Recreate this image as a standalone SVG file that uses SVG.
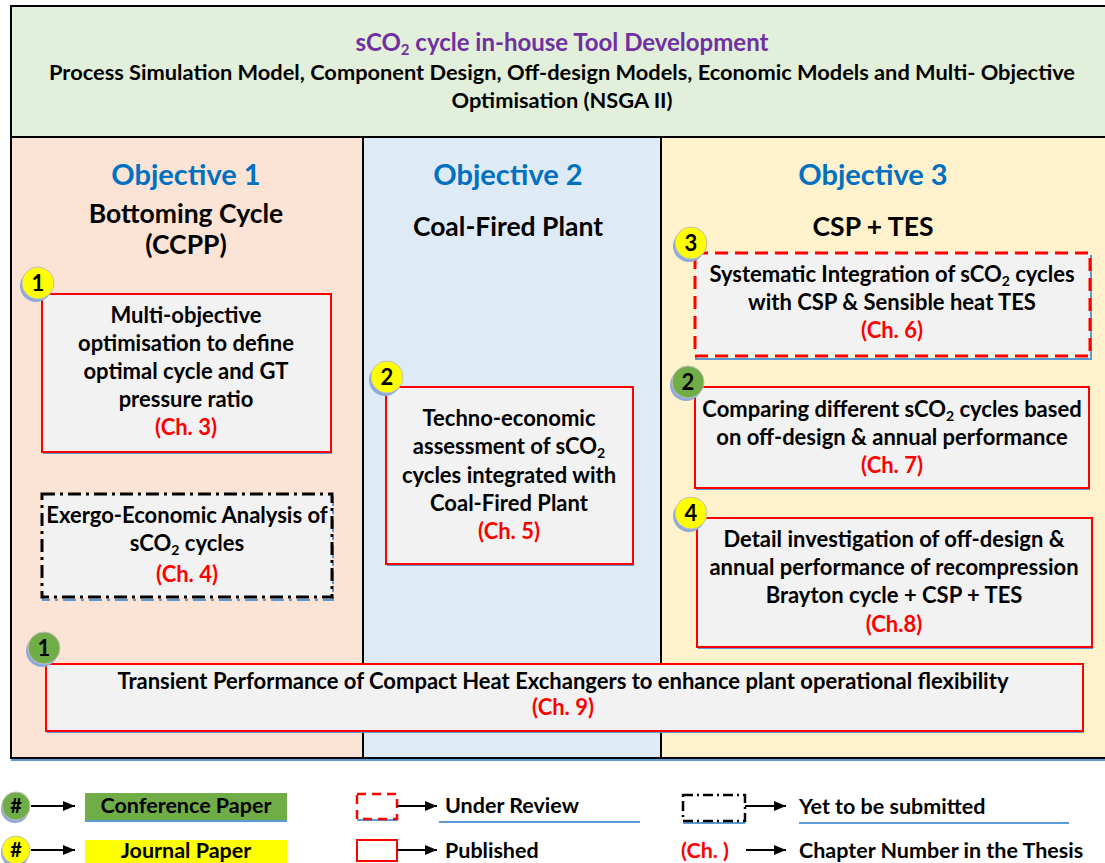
<svg xmlns="http://www.w3.org/2000/svg" width="1105" height="863" viewBox="0 0 1105 863">
<defs>
<style>
text{font-family:Lato,"Liberation Sans",sans-serif;font-weight:700;text-anchor:middle;fill:#000}
.b{font-size:22px}
.ch{fill:#ff0000}
.obj{font-size:29px;fill:#0070c0}
.sub{font-size:26.5px}
.box{fill:#f2f2f2;stroke:#ff0000;stroke-width:2}
.dash{stroke-width:3;stroke-dasharray:13 7}
.dd{fill:#f2f2f2;stroke:#000;stroke-width:3;stroke-dasharray:13 5 3 5}
.sh{fill:#5b9bd5}
.by{fill:#ffff00;stroke:#bfbfbf;stroke-width:1}
.bg{fill:#70ad47;stroke:#bfbfbf;stroke-width:1}
.bsh{fill:#8eaadb}
.num{font-size:22px}
.ul{stroke:#5b9bd5;stroke-width:2}
.ar{stroke:#000;stroke-width:1.8;marker-end:url(#arr)}
.lg{font-size:21.5px;text-anchor:start}
.sb{font-size:14px}
</style>
<marker id="arr" viewBox="0 0 12 10" refX="12" refY="5" markerWidth="12" markerHeight="10" markerUnits="userSpaceOnUse" orient="auto">
<path d="M0,0 L12,5 L0,10 z" fill="#000"/>
</marker>
</defs>

<g id="header">
<rect x="11" y="6" width="1100" height="131" fill="#e2efda" stroke="#000" stroke-width="2"/>
<text x="562" y="51" style="font-size:24px;fill:#7030a0">sCO<tspan style="font-size:15px" dy="4">2</tspan><tspan dy="-4"> cycle in-house Tool Development</tspan></text>
<text x="562" y="80" style="font-size:21.8px">Process Simulation Model, Component Design, Off-design Models, Economic Models and Multi- Objective</text>
<text x="562" y="108" style="font-size:21.8px">Optimisation (NSGA II)</text>
</g>

<g id="columns">
<rect x="11" y="137" width="352" height="621" fill="#fbe4d5"/>
<rect x="363" y="137" width="298" height="621" fill="#deebf7"/>
<rect x="661" y="137" width="450" height="621" fill="#fff2cc"/>
<line x1="11" y1="760" x2="1105" y2="760" stroke="#5b9bd5" stroke-width="2"/>
<path d="M11,137 V758 H1105 M363,137 V758 M661,137 V758 M11,137 H1105" fill="none" stroke="#000" stroke-width="2"/>
</g>

<g id="obj1-head">
<text class="obj" x="186" y="185">Objective 1</text>
<text class="sub" x="186" y="223">Bottoming Cycle</text>
<text class="sub" x="186" y="254">(CCPP)</text>
</g>
<g id="obj2-head">
<text class="obj" x="508" y="185">Objective 2</text>
<text class="sub" x="508" y="236">Coal-Fired Plant</text>
</g>
<g id="obj3-head">
<text class="obj" x="873" y="185">Objective 3</text>
<text class="sub" x="873" y="236">CSP + TES</text>
</g>

<g id="box-ch3">
<rect class="sh" x="43" y="296" width="289" height="158"/>
<rect class="box" x="42" y="294" width="289" height="158"/>
<text class="b" x="186" y="323">Multi-objective</text>
<text class="b" x="186" y="351">optimisation to define</text>
<text class="b" x="186" y="379">optimal cycle and GT</text>
<text class="b" x="186" y="407">pressure ratio</text>
<text class="b ch" x="186" y="435">(Ch. 3)</text>
<circle class="bsh" cx="36" cy="286" r="16"/>
<circle class="by" cx="38" cy="283" r="16"/>
<text class="num" x="38" y="291">1</text>
</g>

<g id="box-ch4">
<rect x="43" y="497" width="290" height="103" stroke="#5b9bd5" stroke-width="2" stroke-dasharray="13 5 3 5" fill="none"/>
<rect class="dd" x="42" y="494" width="290" height="103"/>
<text class="b" x="187" y="523">Exergo-Economic Analysis of</text>
<text class="b" x="187" y="551">sCO<tspan class="sb" dy="4">2</tspan><tspan dy="-4"> cycles</tspan></text>
<text class="b ch" x="187" y="582">(Ch. 4)</text>
</g>

<g id="box-ch5">
<rect class="sh" x="387" y="389" width="247" height="177"/>
<rect class="box" x="386" y="387" width="247" height="177"/>
<text class="b" x="509" y="426">Techno-economic</text>
<text class="b" x="509" y="454">assessment of sCO<tspan class="sb" dy="4">2</tspan></text>
<text class="b" x="509" y="483">cycles integrated with</text>
<text class="b" x="509" y="511">Coal-Fired Plant</text>
<text class="b ch" x="509" y="539">(Ch. 5)</text>
<circle class="bsh" cx="385" cy="380" r="16"/>
<circle class="by" cx="387" cy="377" r="16"/>
<text class="num" x="387" y="385">2</text>
</g>

<g id="box-ch6">
<rect x="696" y="256" width="395" height="103" fill="none" stroke="#5b9bd5" stroke-width="2"/>
<rect class="box dash" x="695" y="253" width="395" height="103"/>
<text class="b" x="892" y="282">Systematic Integration of sCO<tspan class="sb" dy="4">2</tspan><tspan dy="-4"> cycles</tspan></text>
<text class="b" x="892" y="310">with CSP &amp; Sensible heat TES</text>
<text class="b ch" x="892" y="338">(Ch. 6)</text>
<circle class="bsh" cx="689" cy="246" r="16"/>
<circle class="by" cx="691" cy="243" r="16"/>
<text class="num" x="691" y="251">3</text>
</g>

<g id="box-ch7">
<rect class="sh" x="696" y="389" width="394" height="101"/>
<rect class="box" x="695" y="387" width="394" height="101"/>
<text class="b" x="892" y="417">Comparing different sCO<tspan class="sb" dy="4">2</tspan><tspan dy="-4"> cycles based</tspan></text>
<text class="b" x="892" y="445">on off-design &amp; annual performance</text>
<text class="b ch" x="892" y="473">(Ch. 7)</text>
<circle class="bsh" cx="686" cy="385" r="16"/>
<circle class="bg" cx="688" cy="382" r="16"/>
<text class="num" x="688" y="390">2</text>
</g>

<g id="box-ch8">
<rect class="sh" x="698" y="520" width="395" height="129"/>
<rect class="box" x="697" y="518" width="395" height="129"/>
<text class="b" x="894" y="547">Detail investigation of off-design &amp;</text>
<text class="b" x="894" y="575">annual performance of recompression</text>
<text class="b" x="894" y="603">Brayton cycle + CSP + TES</text>
<text class="b ch" x="894" y="632">(Ch.8)</text>
<circle class="bsh" cx="689" cy="516" r="16"/>
<circle class="by" cx="691" cy="513" r="16"/>
<text class="num" x="691" y="521">4</text>
</g>

<g id="box-ch9">
<rect class="sh" x="47" y="666" width="1037" height="67"/>
<rect class="box" x="46" y="664" width="1037" height="67"/>
<text class="b" x="563" y="689">Transient Performance of Compact Heat Exchangers to enhance plant operational flexibility</text>
<text class="b ch" x="563" y="715">(Ch. 9)</text>
<circle class="bsh" cx="42" cy="651" r="16"/>
<circle class="bg" cx="44" cy="648" r="16"/>
<text class="num" x="44" y="656">1</text>
</g>

<g id="legend">
<circle class="bsh" cx="15" cy="809" r="14"/>
<circle class="bg" cx="16" cy="806" r="14"/>
<text x="16" y="813" style="font-size:20px">#</text>
<line class="ar" x1="31" y1="806" x2="75" y2="806"/>
<rect x="85" y="793" width="202" height="27" fill="#70ad47"/>
<line class="ul" x1="85" y1="821" x2="287" y2="821"/>
<text x="186" y="813" style="font-size:21.5px">Conference Paper</text>

<circle class="bsh" cx="15" cy="853" r="14"/>
<circle class="by" cx="16" cy="850" r="14"/>
<text x="16" y="857" style="font-size:20px">#</text>
<line class="ar" x1="31" y1="850" x2="75" y2="850"/>
<rect x="85" y="840" width="202" height="24" fill="#ffff00"/>
<text x="186" y="858" style="font-size:21.5px">Journal Paper</text>

<line class="ul" x1="357" y1="820" x2="397" y2="820"/>
<rect x="357" y="794" width="40" height="25" fill="none" stroke="#ff0000" stroke-width="2.5" stroke-dasharray="9 6"/>
<line class="ar" x1="397" y1="806" x2="437" y2="806"/>
<text class="lg" x="445" y="813">Under Review</text>
<line class="ul" x1="439" y1="822" x2="640" y2="822"/>

<rect x="357" y="840" width="40" height="21" fill="none" stroke="#ff0000" stroke-width="2"/>
<line class="ar" x1="397" y1="850" x2="437" y2="850"/>
<text class="lg" x="445" y="858">Published</text>

<line class="ul" x1="683" y1="823" x2="745" y2="823"/>
<rect x="683" y="795" width="62" height="26" fill="none" stroke="#000" stroke-width="2.5" stroke-dasharray="10 4 2 4"/>
<line class="ar" x1="745" y1="806" x2="786" y2="806"/>
<text class="lg" x="799" y="814">Yet to be submitted</text>
<line class="ul" x1="799" y1="823" x2="1069" y2="823"/>

<text class="ch" x="705" y="858" style="font-size:21.5px">(Ch. )</text>
<line class="ar" x1="746" y1="850" x2="786" y2="850"/>
<text class="lg" x="799" y="858">Chapter Number in the Thesis</text>
</g>
</svg>
